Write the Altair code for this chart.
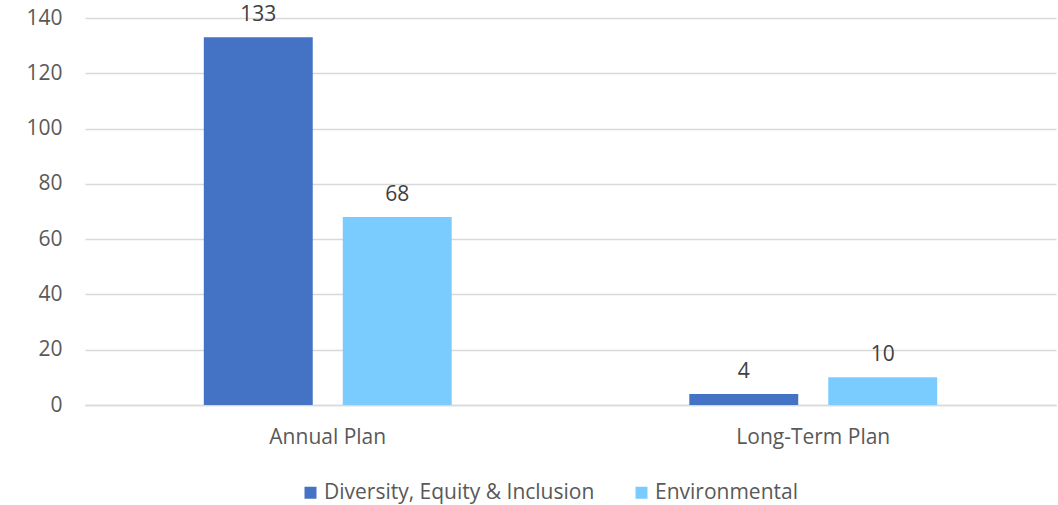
import altair as alt
import pandas as pd

categories = ["Annual Plan", "Long-Term Plan"]
series = ["Diversity, Equity & Inclusion", "Environmental"]
dei_values = [133, 4]
env_values = [68, 10]
colors = ["#4472C4", "#7ACCFF"]

rows = []
for i, cat in enumerate(categories):
    rows.append({"category": cat, "series": series[0], "value": dei_values[i]})
    rows.append({"category": cat, "series": series[1], "value": env_values[i]})
df = pd.DataFrame(rows)

FONT = "Open Sans"
TXT = "#595959"
FS = 21

x = alt.X("category:N", sort=categories, title=None,
          scale=alt.Scale(paddingInner=0, paddingOuter=0),
          axis=alt.Axis(labelAngle=0, labelFont=FONT, labelFontSize=FS, labelColor=TXT,
                        labelPadding=21, ticks=False, domainColor="#D9D9D9", domainWidth=1.5))
xo = alt.XOffset("series:N", sort=series,
                 scale=alt.Scale(paddingInner=0.216, paddingOuter=0.855))
y = alt.Y("value:Q", title=None,
          scale=alt.Scale(domain=[0, 140], nice=False),
          axis=alt.Axis(values=list(range(0, 141, 20)), labelFont=FONT, labelFontSize=FS,
                        labelColor=TXT, labelPadding=23, ticks=False, domain=False,
                        gridColor="#D9D9D9", gridWidth=1.5))

bars = alt.Chart(df).mark_bar().encode(
    x=x, xOffset=xo, y=y,
    color=alt.Color("series:N", sort=series,
                    scale=alt.Scale(domain=series, range=colors),
                    legend=alt.Legend(title=None, orient="none", legendX=215, legendY=464,
                                      direction="horizontal", symbolType="square",
                                      symbolSize=144, symbolStrokeWidth=0,
                                      labelFont=FONT, labelFontSize=FS, labelColor=TXT,
                                      labelLimit=500, columnPadding=36, labelOffset=3)),
)

labels = alt.Chart(df).mark_text(font=FONT, fontSize=FS, color="#404040",
                                 baseline="alphabetic", dy=-16).encode(
    x=x, xOffset=xo, y=y, text="value:Q",
)

chart = (bars + labels).properties(
    width=971, height=387,
    padding={"left": 85, "top": 18, "right": 2, "bottom": 100},
    autosize=alt.AutoSizeParams(type="none"),
).configure_view(stroke=None)

chart.save("out.html", embed_options={"renderer": "svg", "actions": False})
